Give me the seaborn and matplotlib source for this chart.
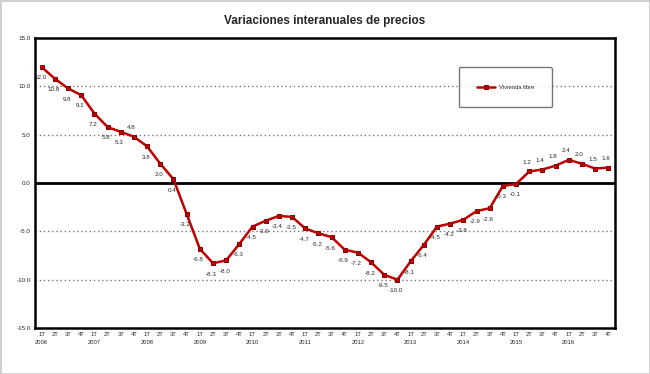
import numpy as np
import pandas as pd
import matplotlib
matplotlib.use("Agg")
import matplotlib.pyplot as plt
import seaborn as sns

# datos: variación interanual vivienda libre (trimestral)
years = ["2006", "2007", "2008", "2009", "2010", "2011",
         "2012", "2013", "2014", "2015", "2016"]
quarters = ["1T", "2T", "3T", "4T"]
vivienda_libre = [
    12.0, 10.8, 9.8, 9.1,
    7.2, 5.8, 5.3, 4.8,
    3.8, 2.0, 0.4, -3.2,
    -6.8, -8.3, -8.0, -6.3,
    -4.5, -3.9, -3.4, -3.5,
    -4.7, -5.2, -5.6, -6.9,
    -7.2, -8.2, -9.5, -10.0,
    -8.1, -6.4, -4.5, -4.2,
    -3.8, -2.9, -2.6, -0.3,
    -0.1, 1.2, 1.4, 1.8,
    2.4, 2.0, 1.5, 1.6,
]
y_ticks = [15, 10, 5, 0, -5, -10, -15]

labels = []
for y in years:
    for q in quarters:
        labels.append(q + "\n" + y if q == "1T" else q)

df = pd.DataFrame({"idx": np.arange(len(vivienda_libre)),
                   "valor": vivienda_libre,
                   "serie": "Vivienda libre"})

sns.set_style("white")
plt.rcParams["font.family"] = ["Liberation Sans", "DejaVu Sans"]

fig = plt.figure(figsize=(6.5, 3.74), dpi=100)
fig.patch.set_edgecolor("#d0d0d0")
fig.patch.set_linewidth(2)
ax = fig.add_axes([0.054, 0.123, 0.892, 0.775])

for g in [10, 5, -5, -10]:
    ax.axhline(g, color="#777777", lw=1.0, ls=(0, (1, 2)), zorder=1)
ax.axhline(0, color="black", lw=2, zorder=2)

red = "#c00000"
sns.lineplot(data=df, x="idx", y="valor", hue="serie", palette=[red],
             marker="s", markersize=3, markeredgecolor="#8b0000",
             linewidth=1.8, ax=ax, zorder=3)

# etiquetas de datos
arriba = {7, 37, 38, 39, 40, 41, 42, 43}
for i, v in enumerate(vivienda_libre):
    txt = f"{v:.1f}"
    if i in arriba:
        ax.annotate(txt, (i, v), xytext=(-2, 5), textcoords="offset points",
                    fontsize=4.5, ha="center", va="bottom")
    else:
        ax.annotate(txt, (i, v), xytext=(-1, -6), textcoords="offset points",
                    fontsize=4.5, ha="center", va="top")

ax.set_xlim(-0.5, len(vivienda_libre) - 0.5)
ax.set_ylim(-15, 15)
ax.set_yticks(y_ticks)
ax.set_yticklabels([f"{t:.1f}" for t in y_ticks], fontsize=4.5)
ax.set_xticks(df["idx"])
ax.set_xticklabels(labels, fontsize=4.2, linespacing=1.6, va="top")
ax.tick_params(axis="both", length=0, pad=3)
ax.set_xlabel("")
ax.set_ylabel("")

for s in ax.spines.values():
    s.set_color("black")
    s.set_linewidth(1.8)

leg = ax.legend(loc="center", bbox_to_anchor=(0.811, 0.83), fontsize=4.2,
                frameon=True, fancybox=True, edgecolor="#555555",
                borderpad=3.0, handlelength=3.2, handletextpad=0.6,
                borderaxespad=0)
leg.get_frame().set_linewidth(1.0)

fig.text(0.5, 0.945, "Variaciones interanuales de precios", ha="center",
         va="center", fontsize=8.5, fontweight="bold")

fig.savefig("out.png", dpi=100, edgecolor=fig.get_edgecolor())
